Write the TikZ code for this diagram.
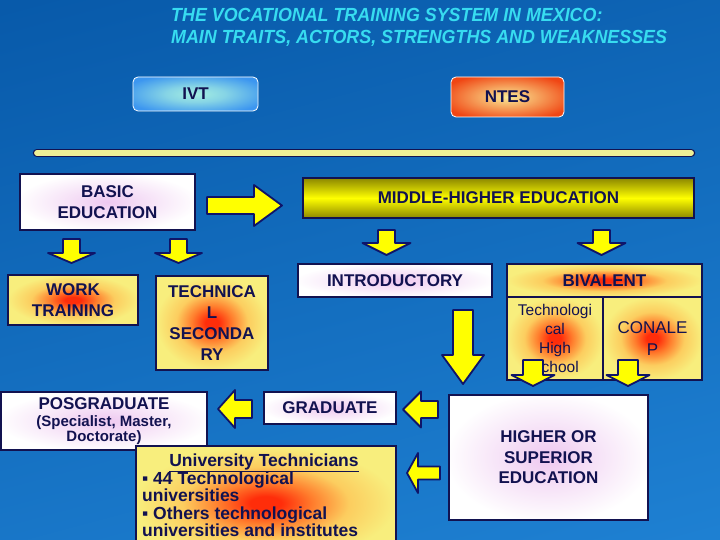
\documentclass[tikz,border=0pt]{standalone}
\usepackage{fontspec}
\usepackage{graphicx}
\setmainfont{Liberation Sans}
\definecolor{navy}{RGB}{18,18,80}
\definecolor{arrownavy}{RGB}{15,20,105}
\definecolor{bgtop}{RGB}{8,90,170}
\definecolor{bgbot}{RGB}{30,128,210}
\definecolor{titlecyan}{RGB}{55,220,240}
\definecolor{arrowyel}{RGB}{255,255,0}
\definecolor{lineyel}{RGB}{238,240,150}
\definecolor{hotred}{RGB}{255,45,10}
\definecolor{hotorange}{RGB}{255,125,45}
\definecolor{hotlight}{RGB}{252,205,95}
\definecolor{paleyel}{RGB}{248,238,125}
\definecolor{pinkc}{RGB}{238,200,240}
\definecolor{ivtin}{RGB}{165,238,225}
\definecolor{ivtout}{RGB}{60,150,240}
\definecolor{ntesin}{RGB}{250,235,150}
\definecolor{ntesout}{RGB}{240,70,20}
\definecolor{olive}{RGB}{140,135,0}
\pgfdeclareradialshading{hotspot}{\pgfpoint{0bp}{0bp}}{color(0bp)=(hotred); color(3bp)=(hotred); color(9bp)=(hotorange); color(16bp)=(hotlight); color(25bp)=(paleyel); color(50bp)=(paleyel)}
\pgfdeclareradialshading{pinkglow}{\pgfpoint{0bp}{0bp}}{color(0bp)=(pinkc); color(10bp)=(pinkc!60!white); color(26bp)=(white); color(50bp)=(white)}
\pgfdeclareradialshading{ivtglow}{\pgfpoint{0bp}{0bp}}{color(0bp)=(ivtin); color(12bp)=(ivtin!70!ivtout); color(30bp)=(ivtout); color(50bp)=(ivtout)}
\pgfdeclareradialshading{ntesglow}{\pgfpoint{0bp}{0bp}}{color(0bp)=(ntesin); color(12bp)=(ntesin!60!ntesout); color(30bp)=(ntesout); color(50bp)=(ntesout)}
\newcommand{\dnarrow}[6]{% cx, top, shaft half, head half, head y, tip y
  \draw[blockarrow] ({#1-#3},#2) -- ({#1+#3},#2) -- ({#1+#3},#5) -- ({#1+#4},#5) -- (#1,#6) -- ({#1-#4},#5) -- ({#1-#3},#5) -- cycle;}
\newcommand{\lfarrow}[6]{% tip x, cy, head back x, head half, shaft half, tail x
  \draw[blockarrow] (#1,#2) -- (#3,{#2-#4}) -- (#3,{#2-#5}) -- (#6,{#2-#5}) -- (#6,{#2+#5}) -- (#3,{#2+#5}) -- (#3,{#2+#4}) -- cycle;}
\newcommand{\rtarrow}[6]{% tip x, cy, head back x, head half, shaft half, tail x
  \draw[blockarrow] (#1,#2) -- (#3,{#2-#4}) -- (#3,{#2-#5}) -- (#6,{#2-#5}) -- (#6,{#2+#5}) -- (#3,{#2+#5}) -- (#3,{#2+#4}) -- cycle;}
\begin{document}
\begin{tikzpicture}[x=1pt,y=-1pt,
  box/.style={draw=navy, line width=1.5pt, text=navy, inner sep=0pt, align=center,
    font=\bfseries\fontsize{17}{20.5}\selectfont},
  whitebox/.style={box, shade, shading=pinkglow},
  hotbox/.style={box, shade, shading=hotspot},
  titletext/.style={text=titlecyan, inner sep=0pt, anchor=base west,
    font=\bfseries\itshape\fontsize{19}{22}\selectfont},
  uttext/.style={text=navy, inner sep=0pt, font=\bfseries\fontsize{17.5}{18}\selectfont},
  blockarrow/.style={fill=arrowyel, draw=arrownavy, line width=1.8pt, line join=round},
  pill/.style={rounded corners=5pt, draw=white, line width=0.8pt, text=navy, inner sep=0pt,
    font=\bfseries\fontsize{17}{20}\selectfont}
]
\useasboundingbox (0,0) rectangle (720,540);
\clip (0,0) rectangle (720,540);
\shade[top color=bgtop, bottom color=bgbot, shading angle=15] (-60,-60) rectangle (780,600);

% title
\node[titletext] (t1) at (171,22) {\scalebox{0.94}[1]{THE VOCATIONAL TRAINING SYSTEM IN MEXICO:}};
\node[titletext] (t2) at (171,44) {\scalebox{0.94}[1]{MAIN TRAITS, ACTORS, STRENGTHS AND WEAKNESSES}};

% actors
\node[pill, shade, shading=ivtglow, minimum width=125, minimum height=34] (ivt) at (195.5,94) {IVT};
\node[pill, shade, shading=ntesglow, minimum width=113, minimum height=40] (ntes) at (507.5,97) {NTES};

% separator line
\coordinate (l1) at (37,153);
\coordinate (l2) at (691,153);
\draw[line width=8.5pt, navy, line cap=round] (l1) -- (l2);
\draw[line width=5.8pt, lineyel, line cap=round] (l1) -- (l2);

% boxes
\node[whitebox, minimum width=175, minimum height=56] (basic) at (107.5,202) {BASIC\\EDUCATION};
\node[box, top color=olive, bottom color=olive, middle color=arrowyel, minimum width=391, minimum height=40] (middle) at (498.5,198) {MIDDLE-HIGHER EDUCATION};
\node[hotbox, minimum width=130, minimum height=50] (work) at (73,300) {WORK\\TRAINING};
\node[hotbox, minimum width=112, minimum height=94, font=\bfseries\fontsize{17}{21}\selectfont] (techsec) at (212,323) {TECHNICA\\L\\SECONDA\\RY};
\node[whitebox, minimum width=194, minimum height=33] (intro) at (395,280.5) {INTRODUCTORY};
\node[hotbox, minimum width=195, minimum height=33] (biv) at (604.5,280.5) {BIVALENT};
\node[hotbox, minimum width=96, minimum height=83, font=\fontsize{15.5}{19}\selectfont] (techhigh) at (555,338.5) {Technologi\\cal\\High\\School};
\node[hotbox, minimum width=99, minimum height=83, font=\fontsize{17}{22}\selectfont] (conalep) at (652.5,338.5) {CONALE\\P};

\node[whitebox, minimum width=206, minimum height=58, font=\bfseries\fontsize{15}{15}\selectfont] (pos) at (104,421) {{\fontsize{17}{17}\selectfont POSGRADUATE}\\[2.5pt](Specialist, Master,\\Doctorate)};
\node[whitebox, minimum width=132, minimum height=32] (grad) at (330,408) {GRADUATE};
\node[whitebox, minimum width=199, minimum height=125] (higher) at (548.5,457.5) {HIGHER OR\\SUPERIOR\\EDUCATION};

\node[hotbox, minimum width=260, minimum height=115, anchor=north west] (ut) at (135,445) {};
\node[uttext, anchor=base] (ut0) at (264,466) {\underline{University Technicians}};
\node[uttext, anchor=base west] (ut1) at (142,484) {▪ 44 Technological};
\node[uttext, anchor=base west] (ut2) at (142,501) {universities};
\node[uttext, anchor=base west] (ut3) at (142,519) {▪ Others technological};
\node[uttext, anchor=base west] (ut4) at (142,536) {universities and institutes};

% arrows
\rtarrow{282}{205.5}{254}{20.5}{8.5}{207}
\dnarrow{71.5}{239}{8.5}{23.5}{253}{263}
\dnarrow{178.5}{239}{8.5}{23.5}{253}{263}
\dnarrow{386.5}{230}{8.5}{24}{243}{255}
\dnarrow{601.5}{230}{8.5}{24}{243}{255}
\dnarrow{463}{310}{10}{21}{355}{384}
\dnarrow{533}{360}{10}{21.5}{375}{386}
\dnarrow{628}{360}{10}{21.5}{375}{386}
\lfarrow{218}{409}{235}{19}{9}{252}
\lfarrow{403}{409.5}{421}{18}{8.5}{438}
\lfarrow{407}{473}{418}{20}{6.5}{440}
\end{tikzpicture}
\end{document}
